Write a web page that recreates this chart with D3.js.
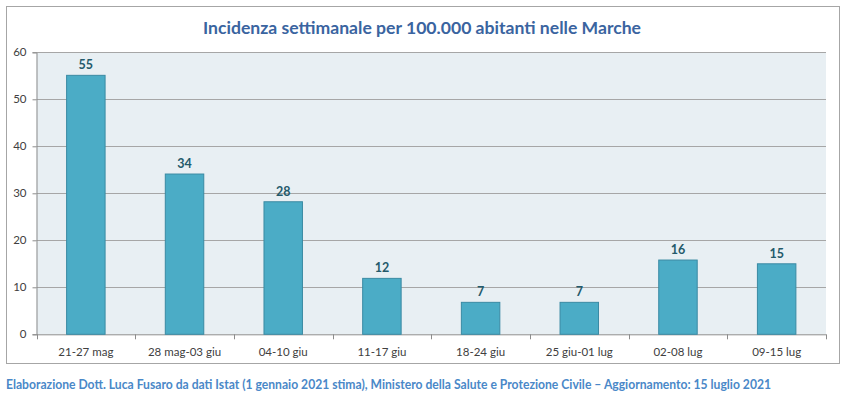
<!DOCTYPE html>
<html>
<head>
<meta charset="utf-8">
<script src="https://cdn.jsdelivr.net/npm/d3@7"></script>
<style>
  body { margin: 0; background: #fff; }
  svg { display: block; font-family: Lato, "Open Sans", sans-serif; }
</style>
</head>
<body>
<div id="chart"></div>
<script>
// Weekly incidence per 100k inhabitants, Marche region
const weeks = ['21-27 mag', '28 mag-03 giu', '04-10 giu', '11-17 giu', '18-24 giu', '25 giu-01 lug', '02-08 lug', '09-15 lug'];
const incidence = [55.1, 34.1, 28.2, 11.9, 6.8, 6.8, 15.8, 15.0];
const yTicks = [0, 10, 20, 30, 40, 50, 60];

const titleText = 'Incidenza settimanale per 100.000 abitanti nelle Marche';
const footerText = 'Elaborazione Dott. Luca Fusaro da dati Istat (1 gennaio 2021 stima), Ministero della Salute e Protezione Civile \u2013 Aggiornamento: 15 luglio 2021';

const W = 850, H = 397;
const m = { top: 52.3, right: 24, bottom: 62.7, left: 36.5 };

const svg = d3.select('#chart').append('svg')
    .attr('width', W)
    .attr('height', H);

// outer frame
svg.append('rect')
    .attr('x', 6.5).attr('y', 6.5)
    .attr('width', 833).attr('height', 357)
    .attr('fill', '#fff')
    .attr('stroke', '#a6a6a6')
    .attr('stroke-width', 1);

const x = d3.scaleBand()
    .domain(weeks)
    .range([m.left, W - m.right])
    .paddingInner(0.6)
    .paddingOuter(0.3);

const y = d3.scaleLinear()
    .domain([0, 60])
    .range([H - m.bottom, m.top]);

// plot background
svg.append('rect')
    .attr('x', m.left).attr('y', y(60))
    .attr('width', W - m.right - m.left)
    .attr('height', y(0) - y(60))
    .attr('fill', '#e8eff3');

// gridlines
svg.append('g')
    .selectAll('line')
    .data(yTicks.filter(d => d > 0))
    .join('line')
    .attr('x1', m.left).attr('x2', W - m.right)
    .attr('y1', d => Math.round(y(d)) + 0.5)
    .attr('y2', d => Math.round(y(d)) + 0.5)
    .attr('stroke', '#a6a6a6')
    .attr('stroke-width', 1);

// y axis
const yAxis = svg.append('g')
    .attr('transform', `translate(${m.left},0)`)
    .call(d3.axisLeft(y).tickValues(yTicks).tickSize(4).tickPadding(6));
yAxis.select('.domain').attr('stroke', '#8c8c8c');
yAxis.selectAll('.tick line').attr('stroke', '#8c8c8c');
yAxis.selectAll('.tick text')
    .attr('fill', '#404040')
    .style('font-size', '11.5px')
    .style('font-family', 'Lato, sans-serif');

// x axis line + ticks at band edges
const step = x.step();
const x0 = m.left;
svg.append('line')
    .attr('x1', m.left).attr('x2', W - m.right)
    .attr('y1', y(0) + 0.5).attr('y2', y(0) + 0.5)
    .attr('stroke', '#8c8c8c');
svg.append('g')
    .selectAll('line')
    .data(d3.range(weeks.length + 1))
    .join('line')
    .attr('x1', i => Math.round(x0 + i * step) + 0.5)
    .attr('x2', i => Math.round(x0 + i * step) + 0.5)
    .attr('y1', y(0)).attr('y2', y(0) + 5)
    .attr('stroke', '#8c8c8c');
svg.append('g')
    .selectAll('text')
    .data(weeks)
    .join('text')
    .attr('x', d => x(d) + x.bandwidth() / 2)
    .attr('y', y(0) + 22)
    .attr('text-anchor', 'middle')
    .attr('fill', '#404040')
    .style('font-size', '11.5px')
    .text(d => d);

// bars
svg.append('g')
    .selectAll('rect')
    .data(weeks)
    .join('rect')
    .attr('x', d => x(d) + 0.5)
    .attr('y', (d, i) => y(incidence[i]))
    .attr('width', x.bandwidth() - 1)
    .attr('height', (d, i) => y(0) - y(incidence[i]))
    .attr('fill', '#4bacc6')
    .attr('stroke', '#3a8aa3')
    .attr('stroke-width', 1);

// value labels
svg.append('g')
    .selectAll('text')
    .data(weeks)
    .join('text')
    .attr('x', d => x(d) + x.bandwidth() / 2)
    .attr('y', (d, i) => y(incidence[i]) - 6)
    .attr('text-anchor', 'middle')
    .attr('fill', '#245a6b')
    .style('font-size', '12.5px')
    .style('font-weight', 'bold')
    .text((d, i) => d3.format('.0f')(incidence[i]));

// title
svg.append('text')
    .attr('x', 422)
    .attr('y', 34)
    .attr('text-anchor', 'middle')
    .attr('fill', '#3a64a0')
    .attr('textLength', 438)
    .attr('lengthAdjust', 'spacingAndGlyphs')
    .style('font-size', '17.5px')
    .style('font-weight', 'bold')
    .text(titleText);

// footer
svg.append('text')
    .attr('x', 6)
    .attr('y', 389)
    .attr('fill', '#4a88c8')
    .attr('textLength', 765)
    .attr('lengthAdjust', 'spacingAndGlyphs')
    .style('font-size', '12.5px')
    .style('font-weight', 'bold')
    .text(footerText);
</script>
</body>
</html>
